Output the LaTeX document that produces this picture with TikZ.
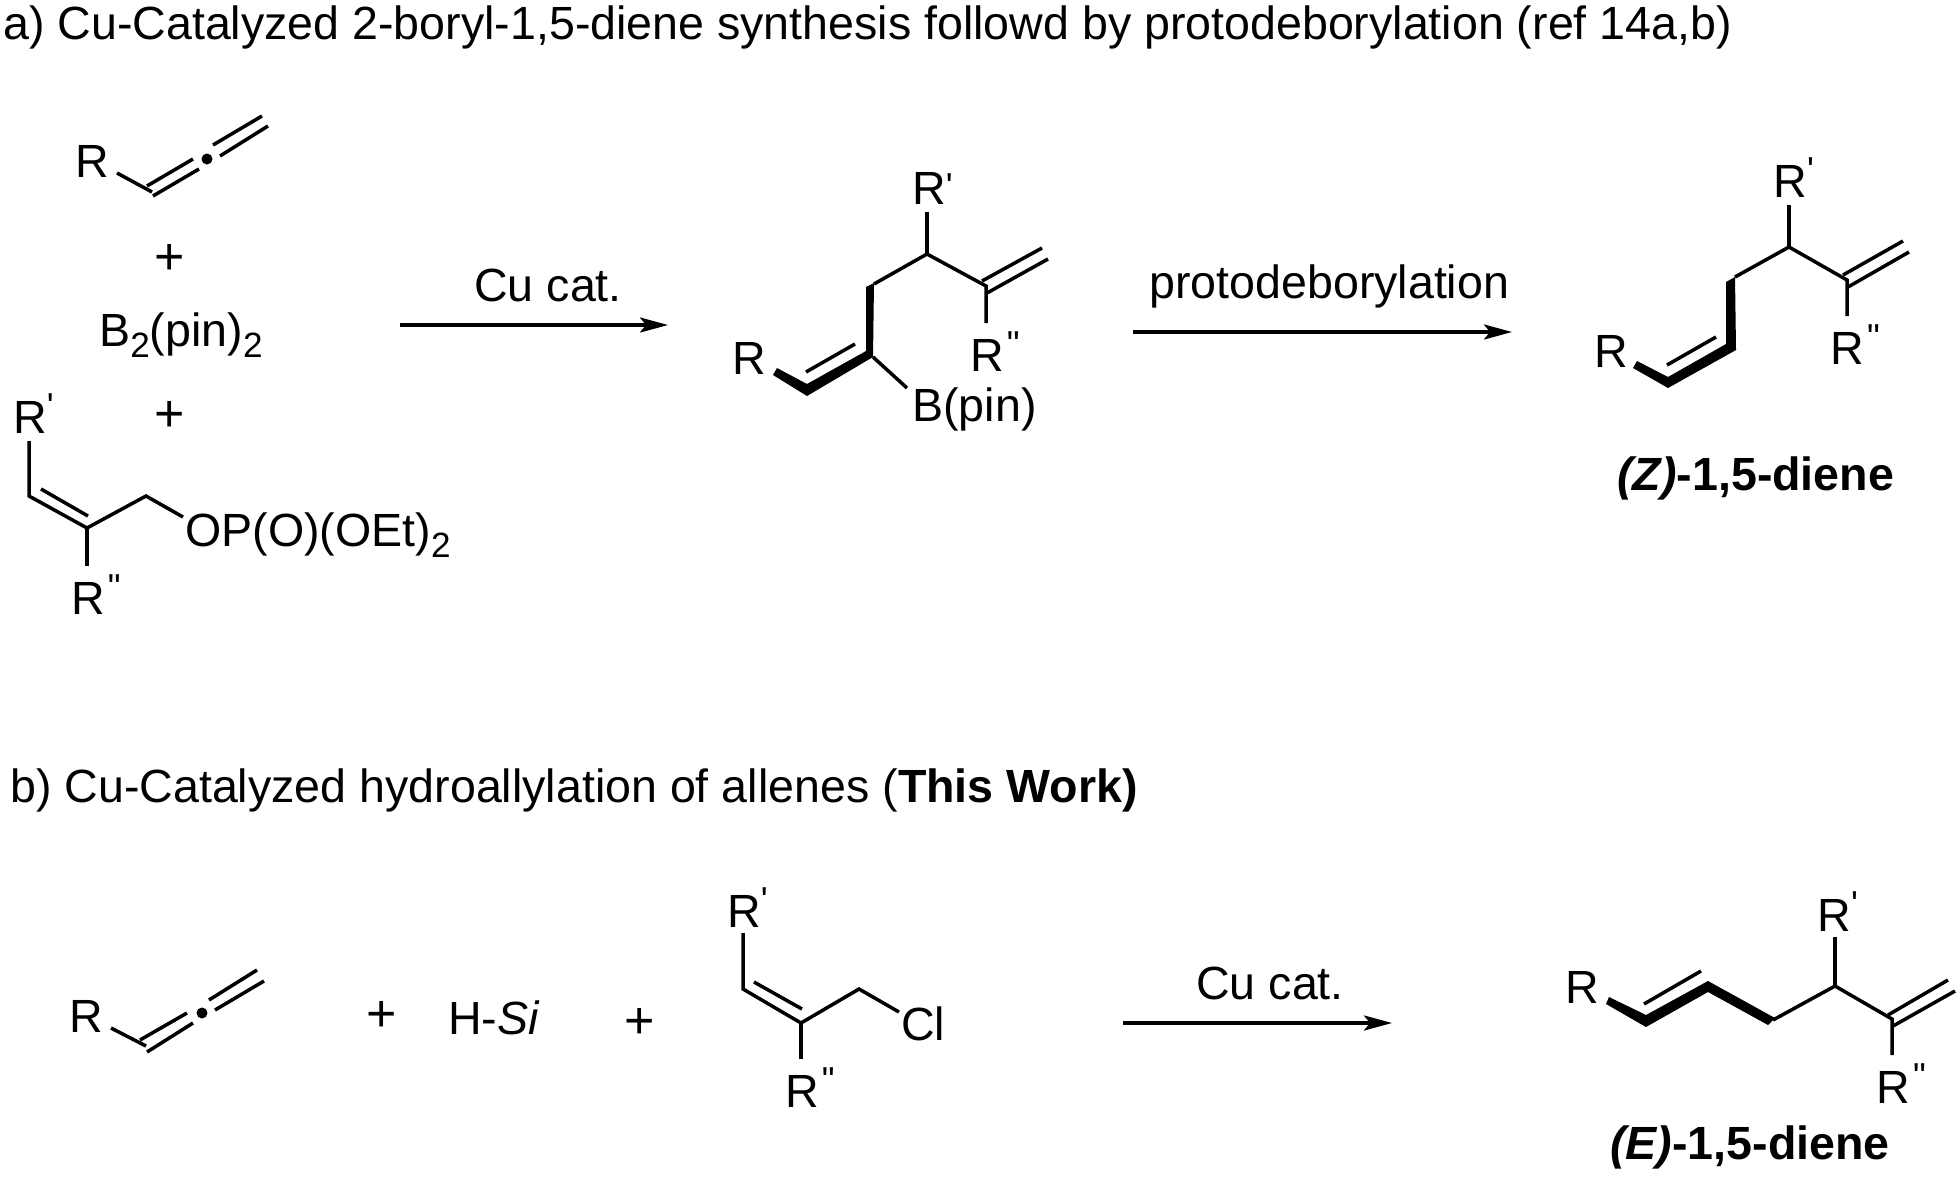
\documentclass[tikz,border=0pt]{standalone}
\usepackage{fontspec}
\setmainfont{Liberation Sans}
\usetikzlibrary{arrows.meta}

\newcommand{\lblsize}{\fontsize{26.5}{30}\selectfont}
\newcommand{\Rp}[1][.3cm]{R\raisebox{#1}{\fontsize{20.5}{24}\selectfont\textquotesingle}}
\newcommand{\Rpp}{R\kern.06cm\raisebox{.3cm}{\fontsize{20.5}{24}\selectfont\textquotedbl}}
\newcommand{\lowtwo}{\raisebox{-.22cm}{\fontsize{20}{24}\selectfont 2}}

\tikzset{
  lbl/.style={inner sep=0pt, anchor=base west, font=\lblsize},
  namelbl/.style={inner sep=0pt, anchor=base west, font=\lblsize\bfseries},
  plusmark/.style={inner sep=0pt, font=\fontsize{29.6}{30}\selectfont},
  bond/.style={line width=.07cm, line join=miter},
  rxn/.style={line width=.07cm, -{Stealth[length=.56cm, width=.3cm, inset=.12cm]}}
}

\begin{document}
\begin{tikzpicture}[x=.02cm, y=-.02cm]
  \useasboundingbox (0,0) rectangle (1960,1177);

  % titles
  \node[lbl] (titleA) at (3,39) {a) Cu-Catalyzed 2-boryl-1,5-diene synthesis followd by protodeborylation (ref 14a,b)};
  \node[lbl] (titleB) at (10,802) {b) Cu-Catalyzed hydroallylation of allenes (\textbf{This Work)}};

  % skeleton points, in pixels of the page
  \foreach \n/\x/\y in {
    a1/117/173, a2/152/192, a3/147/186, a4/193/159, a5/153/196, a6/199/169,
    a7/213/145, a8/262/116, a9/220/156, a10/268/126, dotA/207/159,
    b1/29/441, b2/29/496, b3/87/528, b4/146/496, b5/183/517, b6/41/489, b7/88/516, b8/87/566,
    c1/806/372, c2/855/344, c3/874/284, c4/927/254, c5/927/212, c6/986/286, c7/986/323,
    c8/982/281, c9/1042/248, c10/987/293, c11/1048/259, c12/873/357, c13/907/388,
    d1/1667/365, d2/1716/337, d3/1735/277, d4/1789/247, d5/1789/205, d6/1847/280, d7/1847/316,
    d8/1843/275, d9/1903/241, d10/1848/287, d11/1909/252,
    e1/111/1028, e2/146/1046, e3/140/1040, e4/187/1013, e5/147/1052, e6/193/1023,
    e7/209/1000, e8/257/970, e9/215/1010, e10/264/981, dotB/202/1013,
    f1/743/933, f2/743/989, f3/801/1023, f4/859/989, f5/899/1012, f6/754/982, f7/802/1009, f8/801/1059,
    g1/1644/1004, g2/1701/971, g3/1773/1020, g4/1835/986, g5/1835/937, g6/1892/1019, g7/1892/1055,
    g8/1888/1015, g9/1948/980, g10/1893/1026, g11/1955/991,
    r1s/400/325, r1e/668/325, r2s/1133/332, r2e/1512/332, r3s/1123/1023, r3e/1392/1023}
    \coordinate (\n) at (\x,\y);

  % allene, top
  \node[lbl] (Rtop) at (75,177) {R};
  \draw[bond] (a1) -- (a2);
  \foreach \p/\q in {a3/a4, a5/a6, a7/a8, a9/a10} \draw[bond] (\p) -- (\q);
  \fill (dotA) circle[radius=.11cm];
  \node[plusmark] (plusA) at (170,259) {+};
  \node[lbl] (bpin) at (99,346) {B\lowtwo(pin)\lowtwo};
  \node[plusmark] (plusB) at (170,416) {+};

  % allyl phosphate
  \node[lbl] (Rone) at (13,433) {\Rp};
  \node[lbl] (Rtwo) at (71,614) {\Rpp};
  \node[lbl] (opo) at (185,546) {OP(O)(OEt)\lowtwo};
  \draw[bond] (b1) -- (b2) -- (b3) -- (b4) -- (b5);
  \draw[bond] (b6) -- (b7);
  \draw[bond] (b3) -- (b8);

  \node[lbl] (cuA) at (474,301) {Cu cat.};
  \draw[rxn] (r1s) -- (r1e);

  % boryl diene
  \node[lbl] (Rc) at (732,374) {R};
  \node[lbl] (Rcone) at (912,204) {\Rp[.12cm]};
  \node[lbl] (Rctwo) at (970,371) {\Rpp};
  \node[lbl] (bp) at (912,421) {B(pin)};
  \fill (777,368) -- (807,384) -- (866,351) -- (866,287) -- (874,283) -- (873,357)
    -- (807,396) -- (773,375) -- cycle;
  \draw[bond] (c1) -- (c2);
  \draw[bond] (c3) -- (c4) -- (c6) -- (c7);
  \draw[bond] (c4) -- (c5);
  \draw[bond] (c8) -- (c9);
  \draw[bond] (c10) -- (c11);
  \draw[bond] (c12) -- (c13);

  \node[lbl] (proto) at (1149,298) {protodeborylation};
  \draw[rxn] (r2s) -- (r2e);

  % Z product
  \node[lbl] (Rd) at (1594,367) {R};
  \node[lbl] (Rdone) at (1773,197) {\Rp};
  \node[lbl] (Rdtwo) at (1830,364) {\Rpp};
  \fill (1637,361) -- (1668,377) -- (1726,344) -- (1726,282) -- (1735,277) -- (1736,350)
    -- (1668,388) -- (1633,368) -- cycle;
  \draw[bond] (d1) -- (d2);
  \draw[bond] (d3) -- (d4) -- (d6) -- (d7);
  \draw[bond] (d4) -- (d5);
  \draw[bond] (d8) -- (d9);
  \draw[bond] (d10) -- (d11);
  \node[namelbl] (zname) at (1617,490) {\textit{(Z)}-1,5-diene};

  % row b
  \node[lbl] (Re) at (69,1032) {R};
  \draw[bond] (e1) -- (e2);
  \foreach \p/\q in {e3/e4, e5/e6, e7/e8, e9/e10} \draw[bond] (\p) -- (\q);
  \fill (dotB) circle[radius=.11cm];
  \node[plusmark] (plusC) at (382,1016) {+};
  \node[lbl] (hsi) at (448,1034) {H-\textit{Si}};
  \node[plusmark] (plusD) at (640,1023) {+};

  \node[lbl] (Rf) at (727,927) {\Rp};
  \node[lbl] (Rftwo) at (785,1107) {\Rpp};
  \node[lbl] (cl) at (901,1040) {Cl};
  \draw[bond] (f1) -- (f2) -- (f3) -- (f4) -- (f5);
  \draw[bond] (f6) -- (f7);
  \draw[bond] (f3) -- (f8);

  \node[lbl] (cuB) at (1196,999) {Cu cat.};
  \draw[rxn] (r3s) -- (r3e);

  % E product
  \node[lbl] (Rg) at (1565,1003) {R};
  \node[lbl] (Rgone) at (1817,931) {\Rp};
  \node[lbl] (Rgtwo) at (1876,1103) {\Rpp};
  \fill (1609,997) -- (1646,1015) -- (1708,981) -- (1775,1018) -- (1768,1025) -- (1708,992)
    -- (1646,1027) -- (1606,1004) -- cycle;
  \draw[bond] (g1) -- (g2);
  \draw[bond] (g3) -- (g4) -- (g6) -- (g7);
  \draw[bond] (g4) -- (g5);
  \draw[bond] (g8) -- (g9);
  \draw[bond] (g10) -- (g11);
  \node[namelbl] (ename) at (1610,1159) {\textit{(E)}-1,5-diene};
\end{tikzpicture}
\end{document}
